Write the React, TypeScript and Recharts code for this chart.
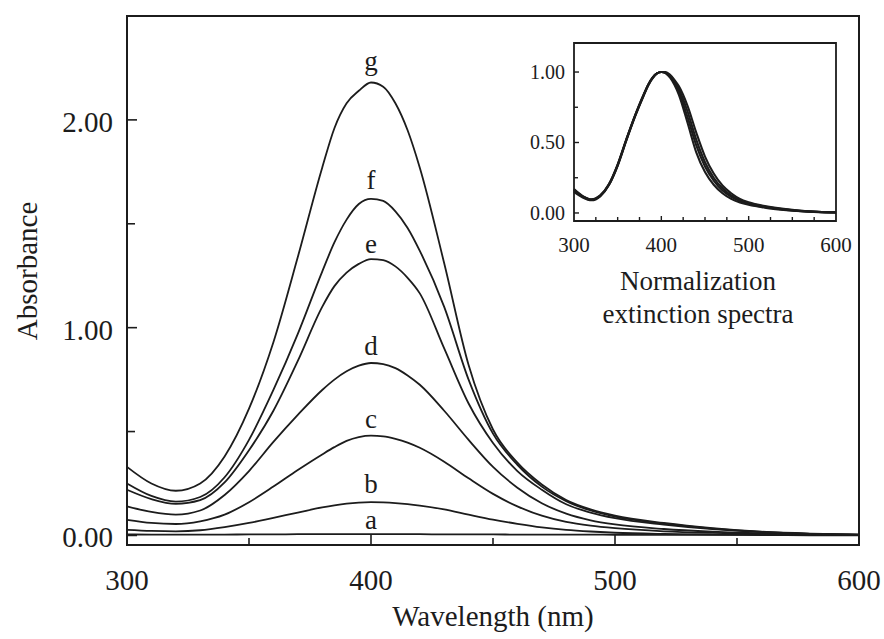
import React from 'react';
import { LineChart, Line, XAxis, YAxis, ReferenceArea, ReferenceDot } from 'recharts';

// wavelength grid (nm)
const wavelengths = [300, 310, 320, 330, 340, 350, 360, 370, 380, 385, 390, 395, 400, 405, 410, 415, 420, 430, 440, 450, 460, 470, 480, 490, 500, 520, 540, 560, 580, 600];

// absorbance, main plot
const curveA = [0.005, 0.004, 0.004, 0.004, 0.004, 0.005, 0.005, 0.006, 0.006, 0.006, 0.006, 0.006, 0.006, 0.006, 0.006, 0.006, 0.006, 0.005, 0.005, 0.005, 0.004, 0.004, 0.004, 0.004, 0.003, 0.003, 0.003, 0.003, 0.003, 0.003];
const curveB = [0.027, 0.022, 0.02, 0.025, 0.04, 0.06, 0.085, 0.11, 0.135, 0.145, 0.153, 0.158, 0.16, 0.159, 0.156, 0.151, 0.144, 0.125, 0.1, 0.076, 0.056, 0.039, 0.027, 0.019, 0.013, 0.007, 0.004, 0.002, 0.001, 0.0];
const curveC = [0.075, 0.06, 0.055, 0.068, 0.1, 0.16, 0.235, 0.315, 0.39, 0.425, 0.455, 0.473, 0.48, 0.477, 0.465, 0.447, 0.422, 0.355, 0.275, 0.2, 0.14, 0.095, 0.065, 0.047, 0.035, 0.02, 0.012, 0.007, 0.004, 0.002];
const curveD = [0.14, 0.113, 0.1, 0.12, 0.195, 0.31, 0.45, 0.58, 0.7, 0.75, 0.79, 0.817, 0.83, 0.825, 0.805, 0.77, 0.725, 0.6, 0.46, 0.33, 0.23, 0.155, 0.105, 0.073, 0.053, 0.031, 0.018, 0.01, 0.006, 0.003];
const curveE = [0.22, 0.175, 0.152, 0.17, 0.255, 0.41, 0.6, 0.84, 1.1, 1.2, 1.265, 1.307, 1.33, 1.325, 1.295, 1.24, 1.165, 0.9, 0.635, 0.445, 0.31, 0.22, 0.15, 0.11, 0.083, 0.052, 0.03, 0.016, 0.008, 0.004];
const curveF = [0.25, 0.19, 0.163, 0.185, 0.28, 0.46, 0.7, 0.97, 1.27, 1.41, 1.52, 1.595, 1.62, 1.61, 1.56, 1.48, 1.37, 1.1, 0.75, 0.49, 0.34, 0.235, 0.165, 0.12, 0.09, 0.057, 0.033, 0.017, 0.008, 0.004];
const curveG = [0.33, 0.25, 0.215, 0.25, 0.38, 0.61, 0.93, 1.34, 1.77, 1.96, 2.08, 2.14, 2.18, 2.16, 2.08, 1.95, 1.77, 1.31, 0.82, 0.51, 0.35, 0.245, 0.17, 0.125, 0.095, 0.06, 0.035, 0.018, 0.009, 0.004];

// normalized spectra, inset
const norm1 = [0.16, 0.115, 0.093, 0.12, 0.2, 0.34, 0.52, 0.69, 0.84, 0.91, 0.96, 0.99, 1.0, 0.99, 0.96, 0.91, 0.84, 0.64, 0.43, 0.29, 0.2, 0.14, 0.1, 0.075, 0.058, 0.036, 0.022, 0.012, 0.006, 0.003];
const norm2 = [0.17, 0.12, 0.097, 0.125, 0.205, 0.345, 0.525, 0.695, 0.845, 0.91, 0.96, 0.99, 1.0, 0.995, 0.97, 0.925, 0.86, 0.68, 0.48, 0.33, 0.23, 0.16, 0.115, 0.085, 0.064, 0.04, 0.024, 0.013, 0.007, 0.004];
const norm3 = [0.15, 0.11, 0.09, 0.118, 0.198, 0.335, 0.515, 0.685, 0.835, 0.905, 0.955, 0.99, 1.0, 0.995, 0.975, 0.935, 0.88, 0.72, 0.52, 0.36, 0.25, 0.175, 0.125, 0.092, 0.07, 0.044, 0.026, 0.015, 0.008, 0.004];
const norm4 = [0.165, 0.118, 0.095, 0.122, 0.202, 0.34, 0.52, 0.69, 0.84, 0.91, 0.96, 0.99, 1.0, 1.0, 0.98, 0.945, 0.9, 0.76, 0.57, 0.4, 0.28, 0.195, 0.14, 0.1, 0.076, 0.048, 0.029, 0.016, 0.009, 0.005];

const curveNames = ['a', 'b', 'c', 'd', 'e', 'f', 'g'];
const mainValues = [curveA, curveB, curveC, curveD, curveE, curveF, curveG];
const insetValues = [norm1, norm2, norm3, norm4];

const mainXTicks = [300, 350, 400, 450, 500, 550, 600];
const mainYTicks = [0, 0.5, 1, 1.5, 2];
const insetXTicks = [300, 325, 350, 375, 400, 425, 450, 475, 500, 525, 550, 575, 600];
const insetYTicks = [0, 0.25, 0.5, 0.75, 1];

const mainRows = wavelengths.map((wl, i) => {
  const row: any = { wl };
  curveNames.forEach((n, k) => (row[n] = mainValues[k][i]));
  return row;
});
const insetRows = wavelengths.map((wl, i) => {
  const row: any = { wl };
  insetValues.forEach((v, k) => (row['n' + k] = v[i]));
  return row;
});

const FONT = '"Liberation Serif", "Times New Roman", serif';
const INK = '#1c1c1c';
const labelGap: Record<string, number> = { a: 4, b: 8, c: 7, d: 7, e: 5, f: 9, g: 11 };

const MainXTick = (props: any) => {
  const { x, y, payload } = props;
  const v = payload.value;
  const major = v % 100 === 0;
  return (
    <g>
      {v > 300 && v < 600 && (
        <line x1={x} y1={y} x2={x} y2={y - (major ? 10 : 7)} stroke={INK} strokeWidth={1.6} />
      )}
      {major && (
        <text x={x} y={y + 45} textAnchor="middle" fontSize={29} fontFamily={FONT} fill={INK}>
          {v}
        </text>
      )}
    </g>
  );
};

const MainYTick = (props: any) => {
  const { x, y, payload } = props;
  const v = payload.value;
  const major = Math.abs(v - Math.round(v)) < 1e-6;
  return (
    <g>
      <line x1={x} y1={y} x2={x + (major ? 10 : 8)} y2={y} stroke={INK} strokeWidth={1.6} />
      {major && (
        <text x={x - 14} y={y + 12} textAnchor="end" fontSize={29} fontFamily={FONT} fill={INK}>
          {v.toFixed(2)}
        </text>
      )}
    </g>
  );
};

const InsetXTick = (props: any) => {
  const { x, y, payload } = props;
  const v = payload.value;
  const major = v % 100 === 0;
  return (
    <g>
      {v > 300 && v < 600 && (
        <line x1={x} y1={y} x2={x} y2={y - (major ? 5 : 4)} stroke={INK} strokeWidth={1.4} />
      )}
      {major && (
        <text x={x} y={y + 31} textAnchor="middle" fontSize={21} fontFamily={FONT} fill={INK}>
          {v}
        </text>
      )}
    </g>
  );
};

const InsetYTick = (props: any) => {
  const { x, y, payload } = props;
  const v = payload.value;
  const major = Math.abs(v * 2 - Math.round(v * 2)) < 1e-6;
  return (
    <g>
      <line x1={x} y1={y} x2={x + (major ? 5 : 4)} y2={y} stroke={INK} strokeWidth={1.4} />
      {major && (
        <text x={x - 9} y={y + 7} textAnchor="end" fontSize={20} fontFamily={FONT} fill={INK}>
          {v.toFixed(2)}
        </text>
      )}
    </g>
  );
};

const AbsorbanceLabel = () => (
  <text x={37} y={271} transform="rotate(-90 37 271)" textAnchor="middle" fontSize={29} fontFamily={FONT} fill={INK}>
    Absorbance
  </text>
);

const InsetTitle = () => (
  <g fontSize={27} fontFamily={FONT} fill={INK} textAnchor="middle">
    <text x={198} y={260}>Normalization</text>
    <text x={198} y={293}>extinction spectra</text>
  </g>
);

const App = () => {
  return (
    <div style={{ position: 'absolute', left: 0, top: 0, width: 884, height: 639, background: '#fff' }}>
      <LineChart width={884} height={639} data={mainRows} margin={{ top: 16, right: 25, bottom: 0, left: 47 }}>
        <XAxis
          dataKey="wl"
          type="number"
          domain={[300, 600]}
          ticks={mainXTicks}
          interval={0}
          height={94}
          axisLine={false}
          tickLine={false}
          tickSize={0}
          tickMargin={0}
          tick={<MainXTick />}
          label={{ value: 'Wavelength (nm)', position: 'insideBottom', offset: 13, fontSize: 29, fontFamily: FONT, fill: INK }}
        />
        <YAxis
          type="number"
          domain={[-0.046, 2.5]}
          ticks={mainYTicks}
          interval={0}
          width={80}
          allowDataOverflow
          axisLine={false}
          tickLine={false}
          tickSize={0}
          tickMargin={0}
          tick={<MainYTick />}
          label={<AbsorbanceLabel />}
        />
        <ReferenceArea x1={300} x2={600} y1={-0.046} y2={2.5} fill="none" stroke={INK} strokeWidth={2} />
        {curveNames.map((n) => (
          <Line key={n} dataKey={n} type="monotone" stroke={INK} strokeWidth={1.8} dot={false} isAnimationActive={false} />
        ))}
        {curveNames.map((n, k) => (
          <ReferenceDot
            key={'lbl' + n}
            x={400}
            y={Math.max(...mainValues[k])}
            r={1}
            fill="none"
            stroke="none"
            label={{ value: n, position: 'top', offset: labelGap[n], fontSize: 27, fontFamily: FONT, fill: INK }}
          />
        ))}
      </LineChart>

      <div style={{ position: 'absolute', left: 500, top: 30, width: 360, height: 310 }}>
        <LineChart width={360} height={310} data={insetRows} margin={{ top: 13, right: 24, bottom: 79, left: 14 }}>
          <XAxis
            dataKey="wl"
            type="number"
            domain={[300, 600]}
            ticks={insetXTicks}
            interval={0}
            height={40}
            axisLine={false}
            tickLine={false}
            tickSize={0}
            tickMargin={0}
            tick={<InsetXTick />}
            label={<InsetTitle />}
          />
          <YAxis
            type="number"
            domain={[-0.057, 1.206]}
            ticks={insetYTicks}
            interval={0}
            width={60}
            allowDataOverflow
            axisLine={false}
            tickLine={false}
            tickSize={0}
            tickMargin={0}
            tick={<InsetYTick />}
          />
          <ReferenceArea x1={300} x2={600} y1={-0.057} y2={1.206} fill="none" stroke={INK} strokeWidth={1.8} />
          {insetValues.map((_, k) => (
            <Line key={k} dataKey={'n' + k} type="monotone" stroke={INK} strokeWidth={2.1} dot={false} isAnimationActive={false} />
          ))}
        </LineChart>
      </div>
    </div>
  );
};

export default App;
